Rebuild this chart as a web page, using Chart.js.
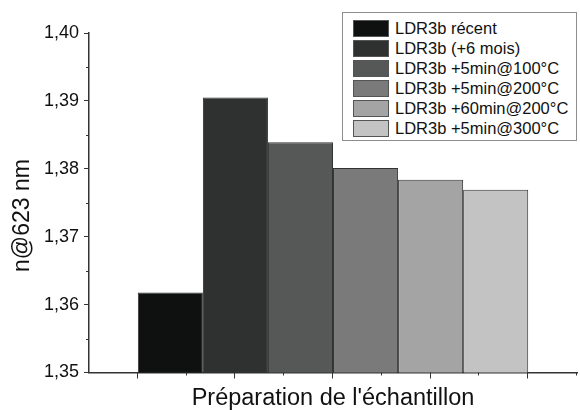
<!DOCTYPE html>
<html>
<head>
<meta charset="utf-8">
<script src="https://cdn.jsdelivr.net/npm/chart.js@4"></script>
<style>
  html, body { margin: 0; padding: 0; background: #fff; }
  .wrap { position: relative; width: 580px; height: 410px; }
  #legend {
    position: absolute; left: 342px; top: 12px; width: 235px; height: 129px;
    border: 1px solid #8e8e8e; background: #fff; box-sizing: border-box;
    font-family: "Liberation Sans", Arial, sans-serif; font-size: 16.5px; color: #111;
  }
  #legend ul { list-style: none; margin: 0; padding: 5px 0 0 10px; }
  #legend li { display: flex; align-items: center; height: 20px; white-space: nowrap; }
  #legend .sw { width: 36px; height: 17px; box-sizing: border-box; border: 1px solid #555; margin-right: 6px; }
</style>
</head>
<body>
<div class="wrap">
  <canvas id="chart" width="580" height="410"></canvas>
  <div id="legend"></div>
</div>
<script>
const categories = [''];
const seriesLabels = [
  'LDR3b récent',
  'LDR3b (+6 mois)',
  'LDR3b +5min@100°C',
  'LDR3b +5min@200°C',
  'LDR3b +60min@200°C',
  'LDR3b +5min@300°C'
];
const seriesValues = [1.3618, 1.3905, 1.3839, 1.3801, 1.3784, 1.3769];
const barColors = ['#0e1110', '#2e3130', '#555857', '#7a7a7a', '#a4a4a4', '#c3c3c3'];
const yTickValues = [1.35, 1.36, 1.37, 1.38, 1.39, 1.40];

const axisColor = '#333';
const font = 'Liberation Sans';

// little tick marks like the original plot: minor y ticks, major/minor x ticks
const axisTicks = {
  id: 'axisTicks',
  afterDraw(chart) {
    const { ctx, chartArea } = chart;
    const y = chart.scales.y;
    const x = chart.scales.x;
    ctx.save();
    ctx.strokeStyle = axisColor;
    ctx.lineWidth = 1;
    for (let i = 0; i < yTickValues.length - 1; i++) {
      const py = Math.round(y.getPixelForValue((yTickValues[i] + yTickValues[i + 1]) / 2)) + 0.5;
      ctx.beginPath();
      ctx.moveTo(chartArea.left - 3, py);
      ctx.lineTo(chartArea.left, py);
      ctx.stroke();
    }
    // x axis is split in 10 steps, odd ones are the long ticks
    for (let i = 1; i <= 10; i++) {
      const px = Math.round(x.left + (x.right - x.left) * i / 10) - 0.5;
      const len = i % 2 ? 6 : 3;
      ctx.beginPath();
      ctx.moveTo(px, chartArea.bottom);
      ctx.lineTo(px, chartArea.bottom + len);
      ctx.stroke();
    }
    ctx.restore();
  }
};

const htmlLegend = {
  id: 'htmlLegend',
  afterUpdate(chart) {
    const box = document.getElementById('legend');
    const ul = document.createElement('ul');
    chart.data.datasets.forEach(ds => {
      const li = document.createElement('li');
      const sw = document.createElement('span');
      sw.className = 'sw';
      sw.style.background = ds.backgroundColor;
      li.appendChild(sw);
      li.appendChild(document.createTextNode(ds.label));
      ul.appendChild(li);
    });
    box.innerHTML = '';
    box.appendChild(ul);
  }
};

new Chart(document.getElementById('chart'), {
  type: 'bar',
  data: {
    labels: categories,
    datasets: seriesLabels.map((label, i) => ({
      label,
      data: [seriesValues[i]],
      backgroundColor: barColors[i],
      borderColor: '#333',
      borderWidth: 1,
      categoryPercentage: 0.8,
      barPercentage: 1
    }))
  },
  options: {
    responsive: false,
    animation: false,
    layout: { padding: { top: 33, right: 3, left: 0, bottom: 0 } },
    plugins: {
      legend: { display: false },
      tooltip: { enabled: false }
    },
    scales: {
      x: {
        grid: { display: false, drawTicks: false },
        border: { color: axisColor, width: 1.5 },
        ticks: { display: false },
        title: {
          display: true,
          text: "Préparation de l'échantillon",
          color: '#111',
          font: { family: font, size: 23.5, lineHeight: 1 },
          padding: { top: 14, bottom: 0 }
        }
      },
      y: {
        min: 1.35,
        max: 1.40,
        afterBuildTicks(scale) {
          scale.ticks = yTickValues.map(v => ({ value: v }));
        },
        grid: { drawOnChartArea: false, tickLength: 5, tickColor: axisColor },
        border: { color: axisColor, width: 1.5 },
        ticks: {
          padding: 5,
          color: '#111',
          font: { family: font, size: 18 },
          callback: v => v.toFixed(2).replace('.', ',')
        },
        title: {
          display: true,
          text: 'n@623 nm    ',
          color: '#111',
          font: { family: font, size: 23, lineHeight: 1 },
          padding: { top: 11, bottom: 5 }
        }
      }
    }
  },
  plugins: [axisTicks, htmlLegend]
});
</script>
</body>
</html>
